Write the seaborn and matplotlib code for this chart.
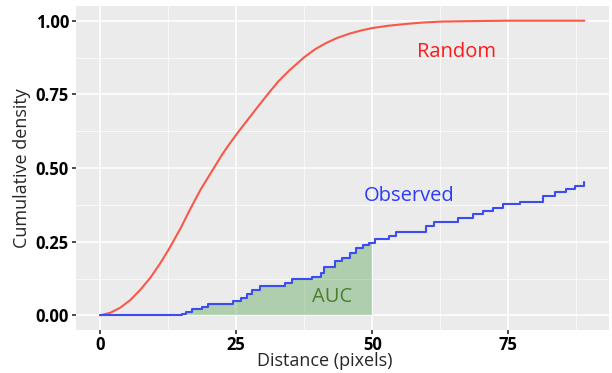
import numpy as np
import pandas as pd
import matplotlib.pyplot as plt
import seaborn as sns
from matplotlib.ticker import MultipleLocator

# Random expectation: cumulative density
random_dist = [0, 1.9, 3.7, 5.55, 7.4, 9.2, 11.1, 12.9, 14.8, 16.6, 18.5, 20.3,
               22.4, 23.7, 25.5, 27.3, 29.2, 31.0, 32.8, 34.7, 37.5, 39.5, 41.5,
               43.5, 45.8, 48, 50, 53, 56.2, 59.5, 62.6, 66, 70, 75, 80, 85, 89]
random_cdf = [0, 0.009, 0.026, 0.052, 0.087, 0.127, 0.178, 0.233, 0.296, 0.362,
              0.428, 0.482, 0.545, 0.580, 0.625, 0.668, 0.713, 0.755, 0.795,
              0.830, 0.876, 0.903, 0.924, 0.941, 0.956, 0.967, 0.975, 0.983,
              0.989, 0.994, 0.997, 0.998, 0.999, 1.0, 1.0, 1.0, 1.0]

# Observed ECDF: step positions and heights
obs_dist = [0, 15.1, 15.7, 16.9, 18.7, 19.9, 24.5, 25.8, 27.0, 27.9, 29.4, 34.0,
            35.3, 38.9, 40.5, 41.1, 43.2, 44.4, 45.9, 47.1, 48.3, 49.5, 50.6,
            53.1, 54.4, 59.9, 61.4, 65.7, 68.5, 70.3, 72.2, 74.0, 77.1, 81.4,
            83.5, 85.7, 87.2, 89.0]
obs_cdf = [0, 0.004, 0.012, 0.023, 0.030, 0.040, 0.050, 0.060, 0.071, 0.085,
           0.100, 0.111, 0.122, 0.130, 0.145, 0.165, 0.185, 0.196, 0.213, 0.228,
           0.240, 0.246, 0.258, 0.270, 0.283, 0.303, 0.317, 0.332, 0.343, 0.354,
           0.366, 0.377, 0.386, 0.405, 0.417, 0.430, 0.440, 0.453]

auc_limit = 50

df_rand = pd.DataFrame({'Distance': random_dist, 'CDF': random_cdf})
df_obs = pd.DataFrame({'Distance': obs_dist, 'CDF': obs_cdf})

sns.set_theme(style='darkgrid', rc={'axes.facecolor': '#EBEBEB',
                                    'grid.color': 'white'})
plt.rcParams['font.family'] = ['Open Sans', 'DejaVu Sans']

fig = plt.figure(figsize=(6.12, 3.73), dpi=100)
ax = fig.add_axes([0.124, 0.115, 0.871, 0.869])

# AUC shading under observed curve up to 50
auc = df_obs[df_obs['Distance'] <= auc_limit]
xs = list(auc['Distance']) + [auc_limit]
ys = list(auc['CDF']) + [auc['CDF'].iloc[-1]]
ax.fill_between(xs, ys, 0, step='post', color='#228B22', alpha=0.3, lw=0)

sns.lineplot(x='Distance', y='CDF', data=df_rand, color='#F8584A', lw=1.5, ax=ax)
sns.lineplot(x='Distance', y='CDF', data=df_obs, color='#3C4CF0', lw=1.5,
             drawstyle='steps-post', ax=ax)

ax.text(65.5, 0.895, 'Random', color='#FF1A1A', fontsize=14.5, ha='center', va='center')
ax.text(56.8, 0.405, 'Observed', color='#2A3CF5', fontsize=14.5, ha='center', va='center')
ax.text(42.6, 0.062, 'AUC', color='#4E7D30', fontsize=14.5, ha='center', va='center')

ax.set_xlim(-4.45, 93.5)
ax.set_ylim(-0.05, 1.05)
ax.set_xticks([0, 25, 50, 75])
ax.set_yticks([0, 0.25, 0.5, 0.75, 1.0])
ax.set_yticklabels(['0.00', '0.25', '0.50', '0.75', '1.00'])
ax.xaxis.set_minor_locator(MultipleLocator(12.5))
ax.yaxis.set_minor_locator(MultipleLocator(0.125))
ax.grid(which='major', color='white', lw=1.1)
ax.grid(which='minor', color='white', lw=0.5)
ax.tick_params(which='major', length=3, color='#333333', labelsize=12, pad=2,
               bottom=True, left=True)
ax.tick_params(axis='x', which='major', pad=1)
ax.tick_params(which='minor', length=0)
for lab in ax.get_xticklabels() + ax.get_yticklabels():
    lab.set_fontweight('bold')
    lab.set_color('black')
for s in ax.spines.values():
    s.set_visible(False)

ax.set_xlabel('Distance (pixels)', fontsize=13)
ax.xaxis.set_label_coords(0.467, -0.068)
ax.set_ylabel('Cumulative density', fontsize=13, labelpad=3)

fig.savefig('out.png', dpi=100)
